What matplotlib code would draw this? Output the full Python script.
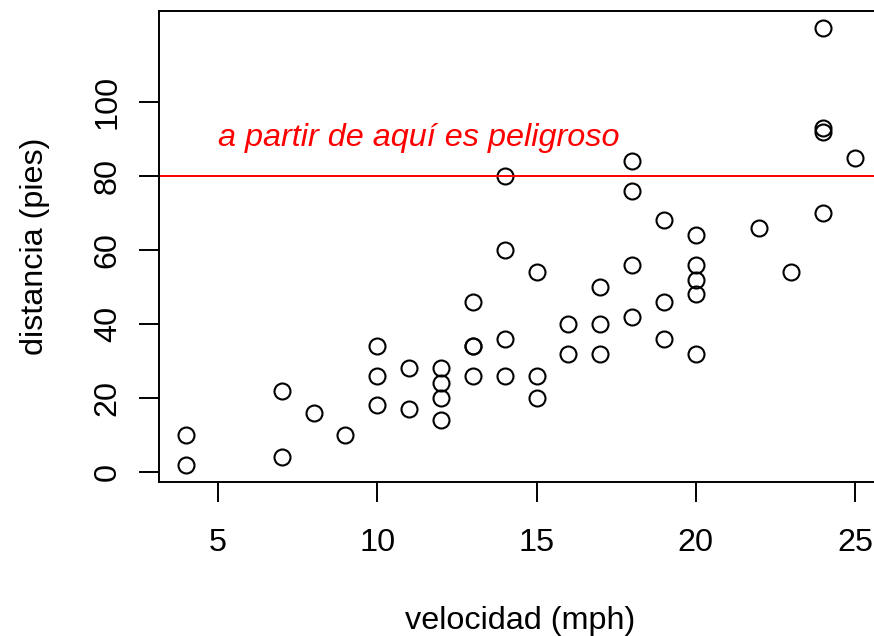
import matplotlib
matplotlib.use("Agg")
import matplotlib.pyplot as plt

# cars: speed (mph) and stopping distance (ft)
speed = [4, 4, 7, 7, 8, 9, 10, 10, 10, 11, 11, 12, 12, 12, 12, 13, 13, 13, 13,
         14, 14, 14, 14, 15, 15, 15, 16, 16, 17, 17, 17, 18, 18, 18, 18, 19, 19,
         19, 20, 20, 20, 20, 20, 22, 23, 24, 24, 24, 24, 25]
dist = [2, 10, 4, 22, 16, 10, 18, 26, 34, 17, 28, 14, 20, 24, 28, 26, 34, 34, 46,
        26, 36, 60, 80, 20, 26, 54, 32, 40, 32, 40, 50, 42, 56, 76, 84, 36, 46,
        68, 32, 48, 52, 56, 64, 66, 54, 70, 92, 93, 120, 85]
x_ticks = [5, 10, 15, 20, 25]
y_ticks = [0, 20, 40, 60, 80, 100]
danger_level = 80
label_x, label_y = 11.3, 88.1

plt.rcParams['font.family'] = ['Liberation Sans', 'DejaVu Sans']
FS = 23.3

fig = plt.figure(figsize=(8.74, 6.36), dpi=100)
ax = fig.add_axes([0.1824, 0.2421, 0.8265, 0.7413])

ax.plot(speed, dist, linestyle='none', marker='o', markersize=11.5,
        markerfacecolor='none', markeredgecolor='black', markeredgewidth=1.5)
ax.axhline(danger_level, color='red', linewidth=1.4)
ax.text(label_x, label_y, 'a partir de aquí es peligroso', color='red',
        fontsize=FS, fontstyle='italic', ha='center', va='baseline')

xr = max(speed) - min(speed)
yr = max(dist) - min(dist)
ax.set_xlim(min(speed) - 0.04 * xr, max(speed) + 0.04 * xr)
ax.set_ylim(min(dist) - 0.04 * yr, max(dist) + 0.04 * yr)

for s in ax.spines.values():
    s.set_linewidth(1.4)

ax.set_xticks(x_ticks)
ax.set_yticks(y_ticks)
ax.set_xticklabels([str(v) for v in x_ticks], fontsize=FS)
ax.set_yticklabels([str(v) for v in y_ticks], fontsize=FS, rotation=90, va='center')
ax.tick_params(axis='both', length=14.4, width=1.4)
ax.tick_params(axis='x', pad=19)
ax.tick_params(axis='y', pad=12)

ax.set_xlabel('velocidad (mph)', fontsize=FS, labelpad=34)
ax.set_ylabel('distancia (pies)', fontsize=FS, labelpad=31)

fig.savefig('out.png', dpi=100)
